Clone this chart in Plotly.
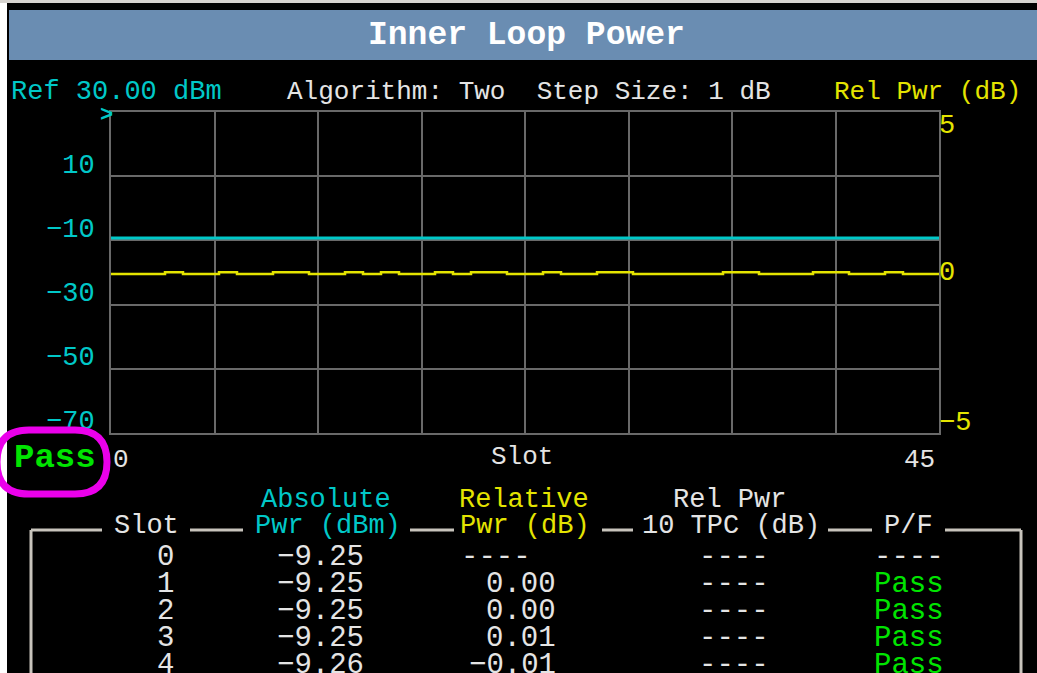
import plotly.graph_objects as go

# ---------------- data ----------------
slots = list(range(46))
abs_pwr_dbm = [-9.25, -9.25, -9.25, -9.25, -9.26, -9.25, -9.25, -9.25, -9.25, -9.25,
               -9.25, -9.25, -9.25, -9.25, -9.25, -9.25, -9.25, -9.25, -9.25, -9.25,
               -9.25, -9.25, -9.25, -9.25, -9.25, -9.25, -9.25, -9.25, -9.25, -9.25,
               -9.25, -9.25, -9.25, -9.25, -9.25, -9.25, -9.25, -9.25, -9.25, -9.25,
               -9.25, -9.25, -9.25, -9.25, -9.25, -9.25]
rel_pwr_db = [-0.05, -0.05, -0.05, 0.01, -0.05, -0.05, 0.01, -0.05, -0.05, 0.01,
              0.01, -0.05, -0.05, 0.01, -0.05, 0.01, -0.05, -0.05, 0.01, -0.05,
              0.01, 0.01, -0.05, -0.05, 0.01, -0.05, -0.05, 0.01, 0.01, -0.05,
              -0.05, -0.05, -0.05, -0.05, 0.01, 0.01, -0.05, -0.05, -0.05, 0.01,
              0.01, -0.05, -0.05, 0.01, -0.05, -0.05]

left_tick_vals = [10, -10, -30, -50, -70]
left_tick_text = ["10", "\u221210", "\u221230", "\u221250", "\u221270"]
right_tick_vals = [5, 0, -5]
right_tick_text = ["5", "0", "\u22125"]

table_slot = ["0", "1", "2", "3", "4"]
table_abs = ["\u22129.25", "\u22129.25", "\u22129.25", "\u22129.25", "\u22129.26"]
table_rel = ["----", "0.00", "0.00", "0.01", "\u22120.01"]
table_tpc = ["----", "----", "----", "----", "----"]
table_pf = ["----", "Pass", "Pass", "Pass", "Pass"]

# ---------------- styling ----------------
FONT = "Liberation Mono"
CYAN = "rgb(0,200,200)"
YELLOW = "rgb(228,228,0)"
GREEN = "rgb(0,228,0)"
WHITE = "rgb(228,228,228)"
MAGENTA = "rgb(235,0,235)"
GRID = "rgb(105,105,105)"
BOXLINE = "rgb(200,196,188)"

W_FIG, H_FIG = 1037, 673
L, R, T, B = 111, 98, 112, 240
PW = W_FIG - L - R
PH = H_FIG - T - B


def px(x):
    return (x - L) / PW


def py(y):
    return (H_FIG - B - y) / PH


fig = go.Figure()

x_edges = slots + [len(slots)]
fig.add_trace(go.Scatter(x=x_edges, y=abs_pwr_dbm + [abs_pwr_dbm[-1]], mode="lines",
                         line=dict(color=CYAN, width=3, shape="hv"), yaxis="y",
                         hoverinfo="skip", showlegend=False))
fig.add_trace(go.Scatter(x=x_edges, y=rel_pwr_db + [rel_pwr_db[-1]], mode="lines",
                         line=dict(color=YELLOW, width=2.5, shape="hv"), yaxis="y2",
                         hoverinfo="skip", showlegend=False))

shapes = []
# top grey strip, left white strip, title bar
shapes.append(dict(type="rect", xref="paper", yref="paper", x0=px(0), x1=px(1037),
                   y0=py(0), y1=py(3), fillcolor="rgb(214,211,207)", line=dict(width=0), layer="below"))
shapes.append(dict(type="rect", xref="paper", yref="paper", x0=px(0), x1=px(7),
                   y0=py(3), y1=py(673), fillcolor="white", line=dict(width=0), layer="below"))
shapes.append(dict(type="rect", xref="paper", yref="paper", x0=px(9), x1=px(1037),
                   y0=py(10), y1=py(60), fillcolor="rgb(106,141,178)", line=dict(width=0), layer="below"))

# table box segments
box_y = py(530)
for x0, x1 in [(31, 102), (190, 243), (410, 454), (602, 633), (828, 872), (945, 1021)]:
    shapes.append(dict(type="line", xref="paper", yref="paper", x0=px(x0), x1=px(x1),
                       y0=box_y, y1=box_y, line=dict(color=BOXLINE, width=3)))
shapes.append(dict(type="line", xref="paper", yref="paper", x0=px(31), x1=px(31),
                   y0=box_y, y1=py(680), line=dict(color=BOXLINE, width=3)))
shapes.append(dict(type="line", xref="paper", yref="paper", x0=px(1021), x1=px(1021),
                   y0=box_y, y1=py(680), line=dict(color=BOXLINE, width=3)))

# magenta oval around Pass
ox0, ox1, oy0, oy1, r = -3, 107, 430, 494, 32
path = (f"M {px(ox0 + r)},{py(oy0)} L {px(ox1 - r)},{py(oy0)} "
        f"Q {px(ox1)},{py(oy0)} {px(ox1)},{py((oy0 + oy1) / 2)} "
        f"Q {px(ox1)},{py(oy1)} {px(ox1 - r)},{py(oy1)} "
        f"L {px(ox0 + r)},{py(oy1)} "
        f"Q {px(ox0)},{py(oy1)} {px(ox0)},{py((oy0 + oy1) / 2)} "
        f"Q {px(ox0)},{py(oy0)} {px(ox0 + r)},{py(oy0)} Z")
shapes.append(dict(type="path", xref="paper", yref="paper", path=path,
                   line=dict(color=MAGENTA, width=7)))

ann = []


def text(x, y, s, color, size, xanchor="center", bold=False, **kw):
    ann.append(dict(x=px(x), y=py(y), xref="paper", yref="paper", text=(f"<b>{s}</b>" if bold else s),
                    showarrow=False, xanchor=xanchor, yanchor="middle",
                    font=dict(family=FONT, size=size, color=color), **kw))


text(526, 35, "Inner Loop Power", "white", 33, bold=True)
text(9, 92, "Ref 30.00 dBm", CYAN, 27, xanchor="left")
text(529, 92, "Algorithm: Two  Step Size: 1 dB", WHITE, 26)
text(1023, 92, "Rel Pwr (dB)", YELLOW, 26, xanchor="right")
text(106, 115, "<b>&gt;</b>", CYAN, 22)

# right axis labels
for v, s, shift in zip(right_tick_vals, right_tick_text, [-14, 0, 10]):
    ann.append(dict(x=1, y=v, xref="paper", yref="y2", text=s, showarrow=False,
                    xanchor="left", yanchor="middle", yshift=shift, xshift=-2,
                    font=dict(family=FONT, size=27, color=YELLOW)))

# x axis labels
ann.append(dict(x=0, y=0, xref="x", yref="paper", text="0", showarrow=False,
                xanchor="left", yanchor="top", yshift=-10,
                font=dict(family=FONT, size=26, color=WHITE)))
ann.append(dict(x=len(slots), y=0, xref="x", yref="paper", text="45", showarrow=False,
                xanchor="right", yanchor="top", yshift=-10, xshift=-2,
                font=dict(family=FONT, size=26, color=WHITE)))
text(522, 457, "Slot", WHITE, 26)

text(55, 458, "Pass", GREEN, 34, bold=True)

# table headers
text(326, 500, "Absolute", CYAN, 27)
text(524, 500, "Relative", YELLOW, 27)
text(729, 500, "Rel Pwr", WHITE, 27)
text(146, 526, "Slot", WHITE, 27)
text(328, 526, "Pwr (dBm)", CYAN, 27)
text(525, 526, "Pwr (dB)", YELLOW, 27)
text(731, 526, "10 TPC (dB)", WHITE, 27)
text(908, 526, "P/F", WHITE, 27)

row_y = [557, 584, 611, 638, 665]
for i, yy in enumerate(row_y):
    text(165, yy, table_slot[i], WHITE, 29)
    text(366, yy, table_abs[i], WHITE, 29, xanchor="right")
    if table_rel[i] == "----":
        text(496, yy, table_rel[i], WHITE, 29)
    else:
        text(558, yy, table_rel[i], WHITE, 29, xanchor="right")
    text(734, yy, table_tpc[i], WHITE, 29)
    text(909, yy, table_pf[i], GREEN if table_pf[i] == "Pass" else WHITE, 29)

fig.update_layout(
    width=W_FIG, height=H_FIG,
    margin=dict(l=L, r=R, t=T, b=B, pad=0),
    paper_bgcolor="black", plot_bgcolor="black",
    showlegend=False,
    shapes=shapes, annotations=ann,
    xaxis=dict(range=[0, len(slots)], tick0=0, dtick=len(slots) / 8, showticklabels=False,
               showgrid=True, gridcolor=GRID, gridwidth=2, zeroline=False,
               showline=True, mirror=True, linecolor=GRID, linewidth=2, ticks=""),
    yaxis=dict(range=[-70, 30], tickvals=left_tick_vals, ticktext=left_tick_text,
               showgrid=True, gridcolor=GRID, gridwidth=2, zeroline=False,
               showline=True, mirror=True, linecolor=GRID, linewidth=2, ticks="",
               ticklabelshift=-13, ticklabelstandoff=9,
               tickfont=dict(family=FONT, size=27, color=CYAN)),
    yaxis2=dict(range=[-5, 5], overlaying="y", side="right", showgrid=False,
                zeroline=False, showticklabels=False, showline=False, ticks=""),
)

fig.write_html("out.html", config={"displayModeBar": False},
               post_script="document.body.style.margin='0';document.body.style.overflow='hidden';")
